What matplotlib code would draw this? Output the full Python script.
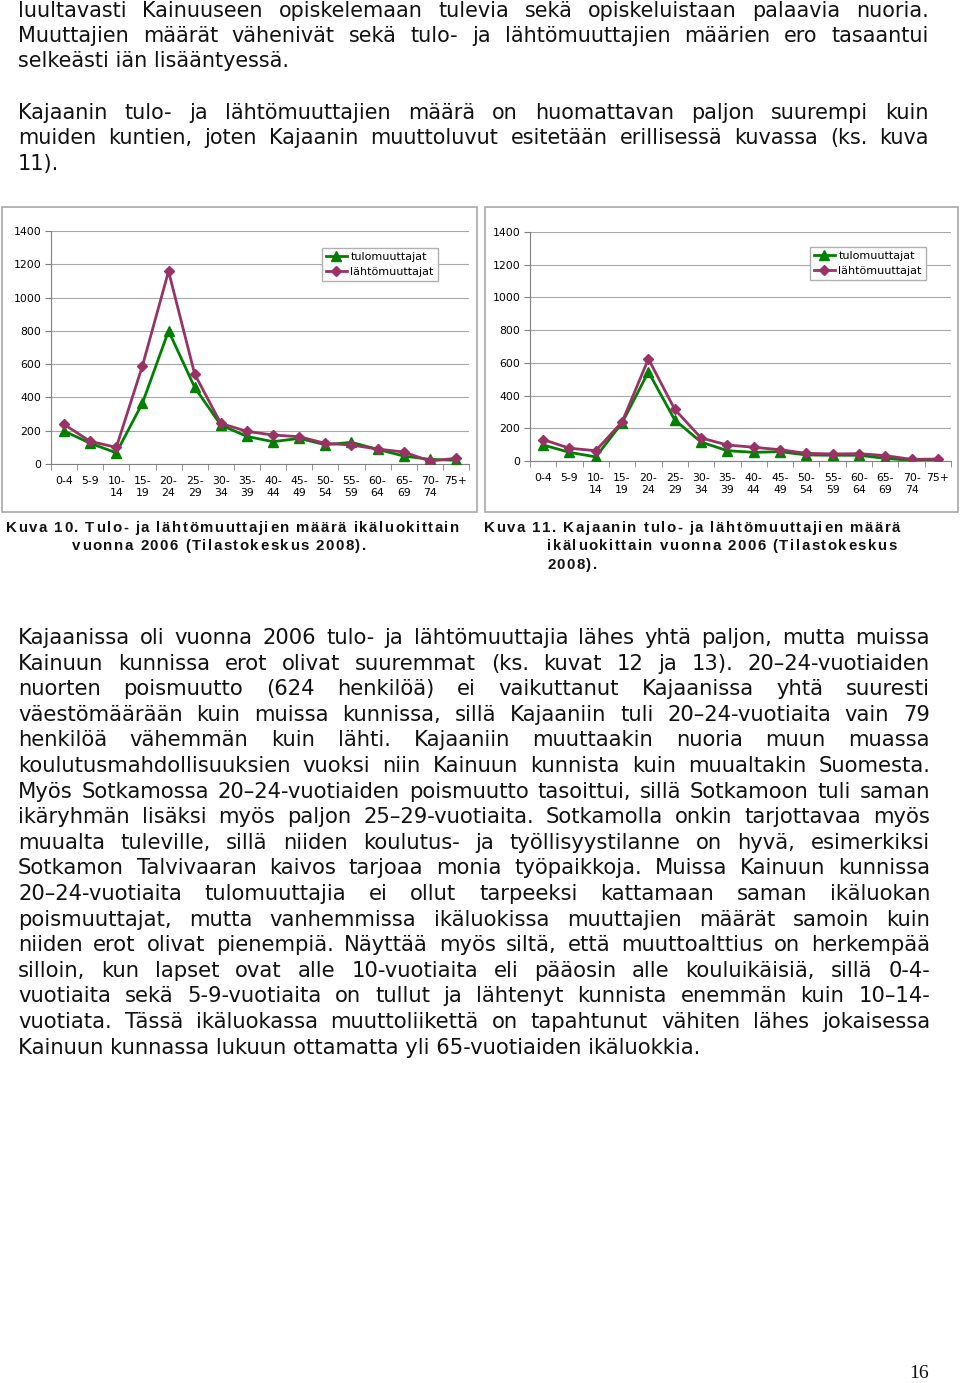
import matplotlib
matplotlib.use('Agg')
import matplotlib.pyplot as plt
import numpy as np
from matplotlib.patches import Rectangle
from matplotlib.font_manager import FontProperties, fontManager, findfont, get_font

W, H = 960, 1383

# --- data ---
age_groups = ['0-4', '5-9', '10-\n14', '15-\n19', '20-\n24', '25-\n29', '30-\n34', '35-\n39',
              '40-\n44', '45-\n49', '50-\n54', '55-\n59', '60-\n64', '65-\n69', '70-\n74', '75+']
kainuu_tulo = [198, 125, 67, 366, 800, 460, 234, 166, 134, 154, 116, 130, 88, 48, 28, 22]
kainuu_lahto = [238, 136, 100, 590, 1158, 540, 244, 196, 174, 164, 124, 114, 90, 72, 18, 34]
kajaani_tulo = [98, 53, 25, 233, 545, 251, 116, 63, 53, 57, 37, 35, 35, 16, 4, 8]
kajaani_lahto = [131, 78, 63, 239, 624, 316, 141, 98, 84, 69, 47, 43, 45, 33, 10, 12]
series_labels = ['tulomuuttajat', 'lähtömuuttajat']

intro_lines = [
    'luultavasti Kainuuseen opiskelemaan tulevia sekä opiskeluistaan palaavia nuoria.',
    'Muuttajien määrät vähenivät sekä tulo- ja lähtömuuttajien määrien ero tasaantui',
    'selkeästi iän lisääntyessä.',
    'Kajaanin tulo- ja lähtömuuttajien määrä on huomattavan paljon suurempi kuin',
    'muiden kuntien, joten Kajaanin muuttoluvut esitetään erillisessä kuvassa (ks. kuva',
    '11).',
]
intro_justify = [True, True, False, True, True, False]
intro_baselines = [17, 42, 67, 119, 144, 170]

body_lines = [
    'Kajaanissa oli vuonna 2006 tulo- ja lähtömuuttajia lähes yhtä paljon, mutta muissa',
    'Kainuun kunnissa erot olivat suuremmat (ks. kuvat 12 ja 13). 20–24-vuotiaiden',
    'nuorten poismuutto (624 henkilöä) ei vaikuttanut Kajaanissa yhtä suuresti',
    'väestömäärään kuin muissa kunnissa, sillä Kajaaniin tuli 20–24-vuotiaita vain 79',
    'henkilöä vähemmän kuin lähti. Kajaaniin muuttaakin nuoria muun muassa',
    'koulutusmahdollisuuksien vuoksi niin Kainuun kunnista kuin muualtakin Suomesta.',
    'Myös Sotkamossa 20–24-vuotiaiden poismuutto tasoittui, sillä Sotkamoon tuli saman',
    'ikäryhmän lisäksi myös paljon 25–29-vuotiaita. Sotkamolla onkin tarjottavaa myös',
    'muualta tuleville, sillä niiden koulutus- ja työllisyystilanne on hyvä, esimerkiksi',
    'Sotkamon Talvivaaran kaivos tarjoaa monia työpaikkoja. Muissa Kainuun kunnissa',
    '20–24-vuotiaita tulomuuttajia ei ollut tarpeeksi kattamaan saman ikäluokan',
    'poismuuttajat, mutta vanhemmissa ikäluokissa muuttajien määrät samoin kuin',
    'niiden erot olivat pienempiä. Näyttää myös siltä, että muuttoalttius on herkempää',
    'silloin, kun lapset ovat alle 10-vuotiaita eli pääosin alle kouluikäisiä, sillä 0-4-',
    'vuotiaita sekä 5-9-vuotiaita on tullut ja lähtenyt kunnista enemmän kuin 10–14-',
    'vuotiata. Tässä ikäluokassa muuttoliikettä on tapahtunut vähiten lähes jokaisessa',
    'Kainuun kunnassa lukuun ottamatta yli 65-vuotiaiden ikäluokkia.',
]

caption_10 = ['Kuva 10. Tulo- ja lähtömuuttajien määrä ikäluokittain',
              'vuonna 2006 (Tilastokeskus 2008).']
caption_11 = ['Kuva 11. Kajaanin tulo- ja lähtömuuttajien määrä',
              'ikäluokittain vuonna 2006 (Tilastokeskus',
              '2008).']

GREEN = '#008000'
PURPLE = '#993366'
TEXT = '#111111'

fig = plt.figure(figsize=(W / 100, H / 100), dpi=100)
renderer = fig.canvas.get_renderer()
names = {f.name for f in fontManager.ttflist}


def fx(x):
    return x / W


def fy(y):
    return 1 - y / H


def text_width(s, prop):
    return renderer.get_text_width_height_descent(s, prop, ismath=False)[0]


def fit_size(s, family, width, weight='normal'):
    prop = FontProperties(family=family, size=10, weight=weight)
    return 10 * width / text_width(s, prop)


def put_line(s, x0, x1, y, prop, justify=True):
    words = s.split(' ')
    if not justify or len(words) == 1:
        fig.text(fx(x0), fy(y), s, fontproperties=prop, color=TEXT, va='baseline', ha='left')
        return
    widths = [text_width(w, prop) for w in words]
    gap = (x1 - x0 - sum(widths)) / (len(words) - 1)
    x = x0
    for w, wd in zip(words, widths):
        fig.text(fx(x), fy(y), w, fontproperties=prop, color=TEXT, va='baseline', ha='left')
        x += wd + gap


def advances(s, prop):
    # pen advances in pixels, straight from the font file
    font = get_font(findfont(prop))
    font.set_size(prop.get_size_in_points(), 100)
    return [font.load_char(ord(ch)).linearHoriAdvance / 65536 for ch in s]


def put_spaced(s, x0, y, prop, ls):
    pen = x0
    for ch, a in zip(s, advances(s, prop)):
        if ch != ' ':
            fig.text(fx(pen), fy(y), ch, fontproperties=prop, color=TEXT,
                     va='baseline', ha='left')
        pen += a + ls


# --- running text ---
intro_family = ['DejaVu Sans']
intro_prop = FontProperties(family=intro_family,
                            size=fit_size('selkeästi iän lisääntyessä.', intro_family, 270))
for s, j, y in zip(intro_lines, intro_justify, intro_baselines):
    put_line(s, 18, 929, y, intro_prop, justify=j)

body_family = ['DejaVu Sans']
body_prop = FontProperties(family=body_family, size=fit_size(body_lines[-1], body_family, 684))
for i, s in enumerate(body_lines):
    put_line(s, 18, 930, 644 + 25.6 * i, body_prop, justify=i < len(body_lines) - 1)

# --- captions (letter-spaced bold) ---
if 'Liberation Sans Narrow' in names:
    cap_family = ['Liberation Sans Narrow']
else:
    cap_family = ['Liberation Sans']
ls = 1.5
probe = FontProperties(family=cap_family, size=10, weight='bold')
cap_size = 10 * (454 - ls * (len(caption_10[0]) - 1)) / sum(advances(caption_10[0], probe))
cap_prop = FontProperties(family=cap_family, size=cap_size, weight='bold')
put_spaced(caption_10[0], 6, 532, cap_prop, ls)
put_spaced(caption_10[1], 72, 550, cap_prop, ls)
put_spaced(caption_11[0], 484, 532, cap_prop, ls)
put_spaced(caption_11[1], 547, 550, cap_prop, ls)
put_spaced(caption_11[2], 547, 569, cap_prop, ls)

fig.text(fx(919), fy(1378), '16', family=['Liberation Serif', 'DejaVu Serif'], fontsize=14,
         color=TEXT, ha='center', va='baseline')


# --- charts ---
def draw_chart(box, plot, tulo, lahto, legend_xy):
    bx0, by0, bx1, by1 = box
    fig.patches.append(Rectangle((fx(bx0), fy(by1)), (bx1 - bx0) / W, (by1 - by0) / H,
                                 transform=fig.transFigure, fill=False, ec='#a8a8a8', lw=1.2))
    px0, py0, px1, py1 = plot
    ax = fig.add_axes([fx(px0), fy(py1), (px1 - px0) / W, (py1 - py0) / H])
    x = np.arange(len(age_groups))
    ax.plot(x, tulo, color=GREEN, marker='^', ms=7, lw=2, label=series_labels[0], zorder=3)
    ax.plot(x, lahto, color=PURPLE, marker='D', ms=5, lw=2, label=series_labels[1], zorder=4)
    ax.set_xlim(-0.5, len(age_groups) - 0.5)
    ax.set_ylim(0, 1400)
    ax.set_yticks(np.arange(0, 1401, 200))
    ax.yaxis.grid(True, color='#a8a8a8', lw=0.8)
    ax.set_axisbelow(True)
    ax.set_xticks(x)
    ax.set_xticklabels(age_groups, fontsize=7.8, linespacing=1.25, va='top')
    ax.set_xticks(np.arange(-0.5, len(age_groups), 1), minor=True)
    ax.tick_params(axis='x', which='major', length=0, pad=9)
    ax.tick_params(axis='x', which='minor', length=4, color='#808080', direction='out')
    ax.tick_params(axis='y', length=4, color='#808080', labelsize=7.8, pad=3)
    for side in ['top', 'right']:
        ax.spines[side].set_visible(False)
    for side in ['left', 'bottom']:
        ax.spines[side].set_color('#808080')
    ax.set_facecolor('none')
    ax.legend(loc='upper left', bbox_to_anchor=(fx(legend_xy[0]), fy(legend_xy[1])),
              bbox_transform=fig.transFigure, borderaxespad=0, fontsize=8, frameon=True,
              fancybox=False, edgecolor='#b0b0b0', framealpha=1, handlelength=1.9,
              handletextpad=0.3, labelspacing=0.45, borderpad=0.35)
    return ax


draw_chart((2, 207, 477, 512), (51, 231, 469, 464), kainuu_tulo, kainuu_lahto, (322, 248))
draw_chart((485, 207, 958, 512), (530, 232, 951, 461), kajaani_tulo, kajaani_lahto, (810, 247))

fig.savefig('out.png', dpi=100, facecolor='white')
